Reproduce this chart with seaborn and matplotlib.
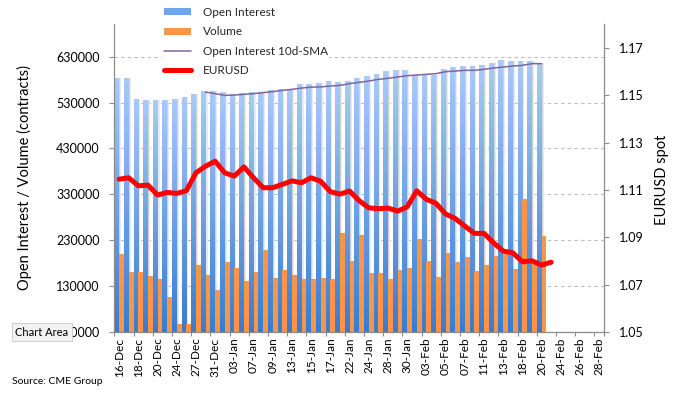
import numpy as np
import pandas as pd
import matplotlib
matplotlib.use("Agg")
import matplotlib.pyplot as plt
import seaborn as sns
from matplotlib.lines import Line2D
from matplotlib.patches import Patch, Rectangle
from matplotlib.colors import LinearSegmentedColormap

# ---------------- data ----------------
dates = ["16-Dec", "17-Dec", "18-Dec", "19-Dec", "20-Dec", "23-Dec", "24-Dec", "26-Dec",
         "27-Dec", "30-Dec", "31-Dec", "02-Jan", "03-Jan", "06-Jan", "07-Jan", "08-Jan",
         "09-Jan", "10-Jan", "13-Jan", "14-Jan", "15-Jan", "16-Jan", "17-Jan", "21-Jan",
         "22-Jan", "23-Jan", "24-Jan", "27-Jan", "28-Jan", "29-Jan", "30-Jan", "31-Jan",
         "03-Feb", "04-Feb", "05-Feb", "06-Feb", "07-Feb", "10-Feb", "11-Feb", "12-Feb",
         "13-Feb", "14-Feb", "18-Feb", "19-Feb", "20-Feb", "21-Feb", "24-Feb", "25-Feb",
         "26-Feb", "27-Feb", "28-Feb"]

open_interest = [584000, 584000, 538000, 536000, 536000, 536000, 538000, 541000, 549000,
                 556000, 556000, 554000, 549000, 551000, 554000, 554000, 558000, 560000,
                 558000, 571000, 571000, 573000, 576000, 575000, 576000, 584000, 587000,
                 593000, 598000, 600000, 600000, 591000, 591000, 591000, 602000, 607000,
                 609000, 609000, 611000, 617000, 622000, 620000, 620000, 620000, 616000]

volume = [199000, 160000, 160000, 151000, 144500, 107000, 48000, 48000, 177000, 155000,
          120500, 181500, 170000, 142000, 160000, 209000, 148000, 164000, 155000, 144500,
          144500, 148500, 144500, 244700, 183700, 240300, 157500, 157500, 144500, 164100,
          168400, 231600, 183700, 148800, 201100, 181500, 192400, 161900, 175000, 194600,
          199000, 166300, 318900, 179300, 238200]

sma_start = 9
oi_sma = [552800, 549300, 545600, 546300, 547800, 549300, 551500, 553700, 556500, 558700,
          561500, 563500, 564000, 566000, 567400, 571100, 574000, 576800, 580500, 582700,
          585600, 588500, 589900, 591400, 592900, 597200, 598600, 600100, 600100, 602300,
          605200, 607300, 609500, 611000, 614700, 614700]

eurusd = [1.1146, 1.1152, 1.1118, 1.1121, 1.1079, 1.1090, 1.1086, 1.1097, 1.1173, 1.1201,
          1.1222, 1.1173, 1.1159, 1.1198, 1.1152, 1.1110, 1.1110, 1.1124, 1.1139, 1.1131,
          1.1152, 1.1137, 1.1093, 1.1083, 1.1096, 1.1055, 1.1025, 1.1021, 1.1024, 1.1011,
          1.1029, 1.1097, 1.1061, 1.1044, 1.0999, 1.0980, 1.0948, 1.0917, 1.0917, 1.0877,
          1.0842, 1.0835, 1.0797, 1.0801, 1.0783, 1.0795]

left_ticks = [30000, 130000, 230000, 330000, 430000, 530000, 630000]
right_ticks = [1.05, 1.07, 1.09, 1.11, 1.13, 1.15, 1.17]

# ---------------- style ----------------
sns.set_theme(style="white")
plt.rcParams["font.family"] = ["Lato", "DejaVu Sans"]

BLUE = "#6ea6ee"
ORANGE = "#f79646"
PURPLE = "#8064a2"
RED = "#ff0000"
SPINE = "#8c8c8c"

fig = plt.figure(figsize=(6.79, 3.93), dpi=100)
ax = fig.add_axes([0.16834, 0.15522, 0.7212, 0.78244])

n = len(open_interest)
df = pd.DataFrame({
    "date": dates[:n] * 2,
    "series": ["Open Interest"] * n + ["Volume"] * n,
    "value": open_interest + volume,
})

sns.barplot(data=df, x="date", y="value", hue="series", order=dates,
            hue_order=["Open Interest", "Volume"],
            palette={"Open Interest": BLUE, "Volume": ORANGE},
            width=1.0, dodge=True, saturation=1, linewidth=0, legend=False,
            err_kws={"linewidth": 0}, ax=ax)

# gradient fill + soft shadow on open-interest bars
cmap = LinearSegmentedColormap.from_list("oi", ["#3a7ad0", "#a8cbf8"])
grad = np.linspace(0, 1, 256).reshape(-1, 1)
blue_rgb = matplotlib.colors.to_rgb(BLUE)
blue_patches = [p for p in ax.patches
                if np.allclose(p.get_facecolor()[:3], blue_rgb, atol=0.01)
                and p.get_height() > 0]
for p in blue_patches:
    x0, w, h = p.get_x(), p.get_width(), p.get_height()
    p.set_zorder(2)
    im = ax.imshow(grad, cmap=cmap, aspect="auto", origin="lower",
                   extent=[x0, x0 + w, 30000, h], zorder=2.1,
                   interpolation="bilinear")
    im.set_clip_path(p)
    ax.add_patch(Rectangle((x0 + w, 30000), 0.10, h - 30000,
                           facecolor="#d2d2d2", edgecolor="none", zorder=1.5))
    ax.add_patch(Rectangle((x0 + w + 0.10, 30000), 0.12, h - 30000,
                           facecolor="#ebebeb", edgecolor="none", zorder=1.5))
for p in ax.patches:
    if np.allclose(p.get_facecolor()[:3], matplotlib.colors.to_rgb(ORANGE), atol=0.01):
        p.set_zorder(2.5)

# SMA line (left axis)
sns.lineplot(x=np.arange(sma_start, sma_start + len(oi_sma)), y=oi_sma, ax=ax,
             color=PURPLE, linewidth=1.1, zorder=3)

ax.set_xlim(-0.5, 50.5)
ax.set_ylim(30000, 700000)
ax.set_yticks(left_ticks)
ax.set_yticklabels([str(v) for v in left_ticks])
ax.set_xticks(np.arange(0, len(dates), 2))
ax.set_xticklabels(dates[::2], rotation=90)
ax.set_xticks(list(np.arange(-0.5, 50, 2)) + [50.5], minor=True)
ax.set_xlabel("")
ax.set_ylabel("")
ax.set_axisbelow(True)
ax.yaxis.grid(True, linestyle=(0, (3, 3)), color="#bdbdbd", linewidth=0.8)
ax.xaxis.grid(False)

ax.tick_params(axis="y", which="major", left=True, length=3.6, width=0.8, color=SPINE,
               pad=7, labelsize=9, labelcolor="black")
ax.tick_params(axis="x", which="major", length=0, pad=4, labelsize=8.5, labelcolor="black")
ax.tick_params(axis="x", which="minor", bottom=True, length=3, width=0.8, color=SPINE)

for s in ["top", "right"]:
    ax.spines[s].set_visible(False)
for s in ["left", "bottom"]:
    ax.spines[s].set_color(SPINE)
    ax.spines[s].set_linewidth(0.9)

# EURUSD (right axis)
ax2 = ax.twinx()
sns.lineplot(x=np.arange(len(eurusd)), y=eurusd, ax=ax2, color=RED, linewidth=3.6,
             solid_capstyle="round", solid_joinstyle="round")
ax2.set_ylim(1.05, 1.18)
ax2.set_yticks(right_ticks)
ax2.set_yticklabels([f"{v:.2f}" for v in right_ticks])
ax2.set_ylabel("")
ax2.grid(False)
ax2.tick_params(axis="y", right=True, length=3.6, width=0.8, color=SPINE, pad=7,
                labelsize=9, labelcolor="black")
for s in ["top", "left", "bottom"]:
    ax2.spines[s].set_visible(False)
ax2.spines["right"].set_color(SPINE)
ax2.spines["right"].set_linewidth(0.9)
ax2.set_xlim(-0.5, 50.5)

# axis titles
fig.text(24 / 679, 1 - 177 / 393, "Open Interest / Volume (contracts)", rotation=90,
         ha="center", va="center", fontsize=10.5, color="black")
fig.text(662 / 679, 1 - 180 / 393, "EURUSD spot", rotation=90,
         ha="center", va="center", fontsize=10.5, color="black")

# legend
handles = [Patch(facecolor=BLUE, edgecolor="none"),
           Patch(facecolor=ORANGE, edgecolor="none"),
           Line2D([0], [0], color=PURPLE, linewidth=1.1),
           Line2D([0], [0], color=RED, linewidth=3.6, solid_capstyle="round")]
labels = ["Open Interest", "Volume", "Open Interest 10d-SMA", "EURUSD"]
leg = fig.legend(handles, labels, loc="upper left", bbox_to_anchor=(0.2305, 1.0),
                 frameon=True, facecolor="white", edgecolor="none", framealpha=1,
                 fontsize=8.5, handlelength=2.3, handleheight=0.55, handletextpad=1.0,
                 labelspacing=0.70, borderpad=0.1, fancybox=False)

# footer texts
fig.text(12 / 679, 1 - 381 / 393, "Source: CME Group", ha="left", va="center",
         fontsize=7.5, color="black")
fig.text(42 / 679, 1 - 332 / 393, "Chart Area", ha="center", va="center", fontsize=8,
         color="black", zorder=10,
         bbox=dict(boxstyle="square,pad=0.35", facecolor="#f2f2f2", edgecolor="#c8c8c8",
                   linewidth=0.6))

fig.savefig("out.png", dpi=100)
